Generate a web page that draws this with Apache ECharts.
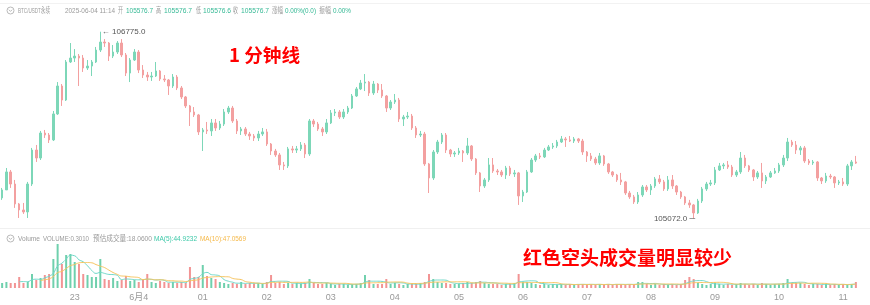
<!DOCTYPE html>
<html><head><meta charset="utf-8">
<script src="https://cdn.jsdelivr.net/npm/echarts@6/dist/echarts.min.js"></script>
<style>html,body{margin:0;padding:0;background:#fff}#c{width:870px;height:305px}</style>
</head><body><div id="c"></div>
<script>
// 4-minute candles from 21:52 (2025-06-03) to 11:12 (2025-06-04)
const startMinute = 21 * 60 + 52;
const stepMinutes = 4;
const tickTimes = ['23:00','00:00','01:00','02:00','03:00','04:00','05:00','06:00','07:00','08:00','09:00','10:00','11:00'];
const tickLabels = ['23','6月4','01','02','03','04','05','06','07','08','09','10','11'];

const opens = [105259,105332,105496,105386,105204,105149,105131,105386,105696,105623,
105851,105833,105788,106025,106280,106152,106499,106535,106553,106535,
106444,106462,106499,106608,106681,106672,106553,106590,106672,106563,
106398,106517,106590,106426,106380,106362,106371,106417,106344,106335,
106280,106362,106262,106180,106098,106043,106016,105861,105879,105870,
105943,105897,105933,106043,106079,105961,105870,105888,105842,105824,
105806,105842,105861,105751,105687,105651,105560,105551,105706,105696,
105706,105742,105660,105961,105933,105888,105861,105943,106034,106043,
105997,106043,106079,106189,106253,106307,106316,106216,106298,106243,
106189,106079,106134,106152,105979,105997,106006,105897,105833,105842,
105569,105441,105678,105769,105833,105696,105660,105669,105687,105669,
105733,105614,105487,105368,105423,105560,105505,105496,105468,105532,
105478,105487,105277,105313,105496,105605,105642,105633,105696,105724,
105733,105769,105797,105788,105778,105797,105778,105678,105642,105614,
105578,105642,105569,105496,105468,105423,105405,105304,105268,105222,
105286,105359,105332,105368,105432,105405,105341,105423,105368,105313,
105268,105213,105195,105122,105231,105341,105386,105396,105514,105551,
105560,105541,105468,105496,105623,105551,105514,105450,105487,105414,
105450,105487,105505,105560,105623,105769,105742,105696,105715,105596,
105578,105587,105441,105414,105459,105450,105396,105405,105386,105551,
105587];
const closes = [105332,105496,105386,105204,105149,105131,105386,105696,105623,105851,
105833,105788,106025,106280,106152,106499,106535,106553,106535,106444,
106462,106499,106608,106681,106672,106553,106590,106672,106563,106398,
106517,106590,106426,106380,106362,106371,106417,106344,106335,106280,
106362,106262,106180,106098,106043,106016,105861,105879,105870,105943,
105897,105933,106043,106079,105961,105870,105888,105842,105824,105806,
105842,105861,105751,105687,105651,105560,105551,105706,105696,105706,
105742,105660,105961,105933,105888,105861,105943,106034,106043,105997,
106043,106079,106189,106253,106307,106316,106216,106298,106243,106189,
106079,106134,106152,105979,105997,106006,105897,105833,105842,105569,
105441,105678,105769,105833,105696,105660,105669,105687,105669,105733,
105614,105487,105368,105423,105560,105505,105496,105468,105532,105478,
105487,105277,105313,105496,105605,105642,105633,105696,105724,105733,
105769,105797,105788,105778,105797,105778,105678,105642,105614,105578,
105642,105569,105496,105468,105423,105405,105304,105268,105222,105286,
105359,105332,105368,105432,105405,105341,105423,105368,105313,105268,
105213,105195,105122,105231,105341,105386,105396,105514,105551,105560,
105541,105468,105496,105623,105551,105514,105450,105487,105414,105450,
105487,105505,105560,105623,105769,105742,105696,105715,105596,105578,
105587,105441,105414,105459,105450,105396,105405,105386,105551,105587,
105576.7];
const highs = [105350,105532,105514,105423,105213,105213,105405,105715,105742,105870,
105879,105851,106052,106316,106298,106517,106672,106617,106572,106563,
106517,106517,106636,106775,106708,106681,106654,106690,106708,106581,
106535,106617,106608,106471,106408,106408,106499,106426,106380,106344,
106389,106380,106280,106189,106107,106088,106025,105897,105952,105979,
105979,105961,106070,106098,106098,105979,105906,105906,105861,105842,
105870,105897,105888,105760,105706,105669,105587,105724,105733,105733,
105769,105760,105979,105979,105952,105906,105979,106061,106070,106061,
106070,106098,106207,106271,106335,106389,106326,106326,106307,106298,
106198,106152,106207,106171,106016,106043,106025,105915,105870,105861,
105578,105696,105788,105851,105851,105706,105687,105715,105696,105806,
105742,105623,105496,105441,105623,105623,105523,105514,105551,105551,
105514,105496,105332,105514,105623,105660,105669,105715,105742,105760,
105788,105824,105815,105824,105815,105806,105797,105687,105669,105633,
105669,105651,105578,105505,105478,105487,105414,105323,105286,105313,
105377,105377,105386,105450,105468,105423,105459,105468,105377,105323,
105277,105241,105204,105250,105359,105405,105423,105541,105578,105578,
105596,105560,105514,105678,105651,105560,105523,105505,105578,105468,
105505,105532,105578,105651,105806,105788,105778,105733,105733,105614,
105605,105596,105450,105487,105478,105459,105423,105441,105569,105605,
105642];
const lows = [105241,105332,105350,105168,105076,105113,105076,105368,105587,105605,
105806,105760,105778,106016,106098,106143,106490,106499,106280,106408,
106426,106371,106490,106590,106636,106508,106535,106572,106544,106371,
106316,106508,106398,106353,106326,106326,106362,106326,106316,106198,
106262,106243,106161,106079,105915,105997,105833,105687,105842,105824,
105870,105879,105915,106025,105943,105842,105833,105824,105788,105778,
105778,105824,105733,105651,105633,105514,105514,105532,105669,105669,
105687,105623,105642,105906,105870,105824,105842,105933,106006,105979,
105979,106025,106070,106180,106243,106234,106189,106198,106216,106171,
106043,106061,106116,105952,105915,105979,105879,105806,105815,105551,
105304,105423,105660,105751,105669,105633,105633,105651,105587,105651,
105596,105468,105313,105350,105405,105487,105468,105450,105432,105459,
105450,105195,105222,105304,105487,105587,105614,105623,105687,105706,
105715,105760,105724,105769,105760,105760,105651,105587,105596,105560,
105560,105551,105478,105450,105405,105377,105286,105250,105204,105204,
105268,105313,105286,105350,105386,105323,105323,105341,105286,105250,
105195,105168,105072,105113,105213,105323,105368,105377,105505,105523,
105523,105450,105450,105478,105532,105496,105414,105432,105350,105386,
105441,105478,105487,105541,105596,105724,105660,105651,105578,105560,
105560,105414,105386,105396,105432,105350,105377,105368,105368,105514,
105569];
const volumes = [45,54,45,45,99,45,54,126,72,90,
117,126,261,396,216,297,306,234,216,126,
117,99,99,261,81,72,90,63,72,108,
63,72,54,81,126,54,45,63,54,45,
54,45,54,45,189,99,99,207,108,90,
81,54,45,36,45,36,54,36,45,36,
45,36,54,117,45,54,36,45,36,45,
36,45,81,45,36,36,45,36,27,36,
36,27,36,36,45,117,72,36,36,36,
81,36,45,36,27,36,36,36,45,54,
126,81,54,45,45,36,36,36,45,54,
45,54,63,45,36,36,36,27,36,36,
45,126,54,54,45,36,27,36,27,36,
27,36,27,36,27,36,36,27,36,27,
36,27,36,27,36,36,27,36,27,54,
54,36,27,36,27,36,27,36,27,36,
72,99,81,45,36,27,36,45,36,27,
36,27,36,45,36,27,36,27,45,36,
27,36,36,45,81,45,45,45,36,27,
36,36,27,36,27,36,27,36,27,36,
54];

const UP = '#7dd7b8', DOWN = '#f3a0a0';
const VUP = '#6fd0ad', VDOWN = '#f29494';

function pad(n){ return (n < 10 ? '0' : '') + n; }
const categories = opens.map(function(_, i){
  const m = (startMinute + stepMinutes * i) % 1440;
  return pad(Math.floor(m / 60)) + ':' + pad(m % 60);
});
const candleData = opens.map(function(o, i){ return [o, closes[i], lows[i], highs[i]]; });
const volData = volumes.map(function(v, i){
  return { value: v, itemStyle: { color: closes[i] >= opens[i] ? VUP : VDOWN } };
});
function ma(n){
  return volumes.map(function(v, i){
    if (i < n - 1) return '-';
    let s = 0; for (let k = i - n + 1; k <= i; k++) s += volumes[k];
    return +(s / n).toFixed(2);
  });
}

const measureCtx = document.createElement('canvas').getContext('2d');
function fitText(txt, x0, x1, yc, size, color, weight, family){
  const font = (weight || 'normal') + ' ' + size + 'px ' + family;
  measureCtx.font = font;
  const w = measureCtx.measureText(txt).width || 1;
  return { type: 'text', x: x0, y: yc, scaleX: (x1 - x0) / w, silent: true,
    style: { text: txt, font: font, fill: color, align: 'left', verticalAlign: 'middle' } };
}
const HF = '"Liberation Sans", "Noto Sans CJK SC", sans-serif';
const GRAY = '#9a9a9a', TEAL = '#35b995';
const headerTokens = [
  ['BTC/USDT永续', 18, 50, GRAY], ['2025-06-04 11:14', 65, 115, GRAY],
  ['开', 118, 123, GRAY], ['105576.7', 126, 153, TEAL],
  ['高', 156, 161, GRAY], ['105576.7', 164, 192, TEAL],
  ['低', 196, 201, GRAY], ['105576.6', 203, 231, TEAL],
  ['收', 233, 238, GRAY], ['105576.7', 241, 269, TEAL],
  ['涨幅', 272, 283, GRAY], ['0.00%(0.0)', 285, 316, TEAL],
  ['振幅', 319, 331, GRAY], ['0.00%', 333, 351, TEAL]
];
const volTokens = [
  ['Volume', 18, 40, GRAY], ['VOLUME:0.3010', 43, 89, GRAY],
  ['预估成交量:18.0600', 93, 152, GRAY], ['MA(5):44.9232', 154, 197, '#3cc8a8'],
  ['MA(10):47.0569', 200, 246, '#f5b94a']
];
function icon(cx, cy){
  return [
    { type: 'circle', shape: { cx: cx, cy: cy, r: 3.5 }, silent: true, style: { fill: 'none', stroke: '#a8a8a8', lineWidth: 0.8 } },
    { type: 'polyline', shape: { points: [[cx - 1.7, cy - 0.8], [cx, cy + 0.9], [cx + 1.7, cy - 0.8]] }, silent: true, style: { fill: 'none', stroke: '#a8a8a8', lineWidth: 0.8 } }
  ];
}
const graphics = [].concat(
  [{ type: 'line', shape: { x1: 0, y1: 3.5, x2: 870, y2: 3.5 }, silent: true, style: { stroke: '#f2f2f2', lineWidth: 1 } },
   { type: 'line', shape: { x1: 0, y1: 228.5, x2: 870, y2: 228.5 }, silent: true, style: { stroke: '#f0f0f0', lineWidth: 1 } }],
  icon(10.5, 10.5), icon(10.5, 238.5),
  headerTokens.map(function(t){ return fitText(t[0], t[1], t[2], 10.7, 8, t[3], 'normal', HF); }),
  volTokens.map(function(t){ return fitText(t[0], t[1], t[2], 238.5, 8, t[3], 'normal', HF); }),
  [fitText('1 分钟线', 229, 300, 55.5, 18, '#ff0000', 'bold', '"Noto Sans CJK SC", sans-serif'),
   fitText('红色空头成交量明显较少', 523, 732, 258, 19, '#ff0000', 'bold', '"Noto Sans CJK SC", sans-serif')]
);

const chart = echarts.init(document.getElementById('c'), null, { renderer: 'canvas' });
chart.setOption({
  animation: false,
  backgroundColor: '#ffffff',
  grid: [
    { left: 0, right: 12, top: 20, height: 205, outerBoundsMode: 'none', containLabel: false },
    { left: 0, right: 12, top: 240, height: 48, outerBoundsMode: 'none', containLabel: false }
  ],
  xAxis: [
    { type: 'category', gridIndex: 0, data: categories, boundaryGap: true,
      axisLine: { show: false }, axisTick: { show: false }, axisLabel: { show: false }, splitLine: { show: false } },
    { type: 'category', gridIndex: 1, data: categories, boundaryGap: true,
      axisLine: { show: false }, axisTick: { show: false }, splitLine: { show: false },
      axisLabel: { show: true, color: '#999', fontSize: 9, margin: 5,
        fontFamily: '"Liberation Sans Narrow", "Liberation Sans", "Noto Sans CJK SC", sans-serif',
        hideOverlap: false,
        interval: function(idx, val){ return tickTimes.indexOf(val) >= 0; },
        formatter: function(val){ const k = tickTimes.indexOf(val); return k >= 0 ? tickLabels[k] : ''; } } }
  ],
  yAxis: [
    { type: 'value', gridIndex: 0, min: 105012, max: 106882, show: false, splitLine: { show: false } },
    { type: 'value', gridIndex: 1, min: 0, max: 432, show: false, splitLine: { show: false } }
  ],
  series: [
    { type: 'candlestick', xAxisIndex: 0, yAxisIndex: 0, data: candleData, barWidth: 2,
      itemStyle: { color: UP, color0: DOWN, borderColor: UP, borderColor0: DOWN, borderWidth: 1 },
      markPoint: {
        symbol: 'circle', symbolSize: 1, itemStyle: { color: 'rgba(0,0,0,0)' },
        label: { show: true, color: '#555', fontSize: 8, fontFamily: '"Liberation Sans", sans-serif' },
        data: [
          { type: 'max', valueDim: 'highest', label: { position: 'right', distance: 1,
            formatter: function(p){ return '← ' + Number(p.value).toFixed(1); } } },
          { type: 'min', valueDim: 'lowest', label: { position: 'left', distance: -2,
            formatter: function(p){ return Number(p.value).toFixed(1) + ' ─'; } } }
        ]
      } },
    { type: 'bar', name: 'VOL', xAxisIndex: 1, yAxisIndex: 1, data: volData, barWidth: 2 },
    { type: 'line', name: 'MA5', xAxisIndex: 1, yAxisIndex: 1, data: ma(5), symbol: 'none', smooth: true,
      lineStyle: { width: 1, color: '#6fd8c8' } },
    { type: 'line', name: 'MA10', xAxisIndex: 1, yAxisIndex: 1, data: ma(10), symbol: 'none', smooth: true,
      lineStyle: { width: 1, color: '#f7c45e' } }
  ],
  graphic: graphics
});
</script>
</body></html>
